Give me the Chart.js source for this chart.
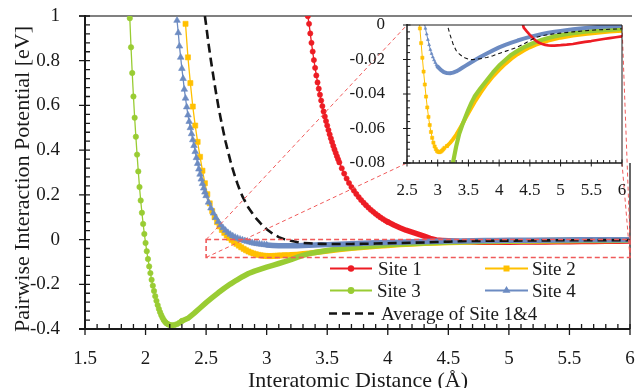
<!DOCTYPE html>
<html>
<head>
<meta charset="utf-8">
<script src="https://cdn.jsdelivr.net/npm/chart.js@4.4.0/dist/chart.umd.min.js"></script>
<style>
  html, body { margin: 0; padding: 0; background: #fff; }
  #wrap { position: relative; width: 636px; height: 388px; }
  #main { position: absolute; left: 0; top: 0; }
  #inset { position: absolute; left: 330px; top: 10px; }
</style>
</head>
<body>
<div id="wrap">
  <canvas id="main" width="636" height="388"></canvas>
  <canvas id="inset" width="300" height="190"></canvas>
</div>
<script>
// ---- data (x in Angstrom, y in eV) ----
var seriesNames = ['Site 1', 'Site 2', 'Site 3', 'Site 4', 'Average of Site 1&4'];

var site1X = [3.34,3.35,3.36,3.37,3.38,3.39,3.40,3.41,3.42,3.43,3.44,3.45,3.46,3.47,3.48,3.49,3.50,3.51,3.52,3.53,3.54,3.55,3.56,3.57,3.58,3.59,3.60,
  3.62,3.64,3.66,3.68,3.70,3.72,3.74,3.76,3.78,3.80,3.82,3.84,3.86,3.88,3.90,3.92,3.94,3.96,3.98,4.00,
  4.05,4.10,4.15,4.20,4.25,4.30,4.35,4.40,4.45,4.50,4.55,4.60,4.65,4.70,4.75,4.80,4.85,4.90,
  5.0,5.1,5.2,5.3,5.4,5.5,5.6,5.7,5.8,5.9,6.0];
var site1Y = [0.999,0.965,0.922,0.88,0.841,0.803,0.768,0.734,0.703,0.675,0.648,0.622,0.597,0.573,0.551,0.530,0.510,0.490,0.471,0.453,0.436,0.419,0.403,0.388,0.373,0.359,0.345,
  0.319,0.295,0.273,0.253,0.235,0.219,0.204,0.19,0.177,0.165,0.154,0.143,0.133,0.124,0.115,0.107,0.099,0.092,0.085,0.079,
  0.065,0.053,0.042,0.033,0.024,0.015,0.0055,-0.0015,-0.0037,-0.0057,-0.0075,-0.0092,-0.0103,-0.011,-0.0115,-0.0118,-0.0119,-0.0119,
  -0.0117,-0.0114,-0.011,-0.0104,-0.0098,-0.0093,-0.0087,-0.0081,-0.0076,-0.0071,-0.0066];

var site2X = [2.33,2.35,2.37,2.39,2.41,2.43,2.45,2.47,2.49,2.51,2.53,2.55,2.57,2.59,2.61,2.63,2.65,2.67,2.69,2.71,
  2.73,2.75,2.77,2.79,2.81,2.83,2.85,2.87,2.89,2.91,2.93,2.95,2.97,2.99,3.01,3.03,3.05,3.07,3.09,3.11,
  3.15,3.20,3.25,3.30,3.35,3.40,3.45,3.50,
  3.6,3.7,3.8,3.9,4.0,4.1,4.2,4.3,4.4,4.5,4.6,4.7,4.8,4.9,5.0,
  5.2,5.4,5.6,5.8,6.0];
var site2Y = [0.965,0.815,0.70,0.595,0.51,0.437,0.37,0.308,0.252,0.203,0.162,0.128,0.10,0.078,0.059,0.043,0.03,0.018,0.0075,-0.002,
  -0.0105,-0.019,-0.027,-0.0345,-0.0415,-0.0478,-0.0533,-0.058,-0.062,-0.0654,-0.0682,-0.0704,-0.072,-0.0731,-0.0736,-0.0737,-0.0734,-0.0728,-0.0721,-0.0712,
  -0.0702,-0.0684,-0.0662,-0.0636,-0.0606,-0.0575,-0.0543,-0.0510,
  -0.0448,-0.0392,-0.0342,-0.0298,-0.0260,-0.0226,-0.0196,-0.0170,-0.0148,-0.0130,-0.0115,-0.0102,-0.0091,-0.0082,-0.0074,
  -0.0062,-0.0053,-0.0045,-0.0039,-0.0034];

var site3X = [1.87,1.88,1.89,1.90,1.91,1.92,1.93,1.94,1.95,1.96,1.97,1.98,1.99,2.00,2.01,2.02,2.03,2.04,2.05,2.06,
  2.07,2.08,2.09,2.10,2.11,2.12,2.13,2.14,2.15,2.16,2.17,2.18,2.19,2.20,2.22,2.24,2.26,2.28,2.30,
  2.35,2.40,2.45,2.50,2.55,2.60,2.65,2.70,2.75,2.80,2.85,2.90,2.95,3.00,3.05,3.10,3.15,3.20,3.25,3.30,3.35,3.40,3.45,3.50,3.55,3.60,
  3.7,3.8,3.9,4.0,4.1,4.2,4.3,4.4,4.5,4.6,4.7,4.8,4.9,5.0,
  5.2,5.4,5.6,5.8,6.0];
var site3Y = [0.99,0.86,0.745,0.64,0.545,0.46,0.38,0.305,0.235,0.175,0.12,0.07,0.025,-0.015,-0.052,-0.087,-0.12,-0.15,-0.18,-0.206,
  -0.23,-0.253,-0.274,-0.293,-0.31,-0.325,-0.338,-0.35,-0.36,-0.367,-0.373,-0.377,-0.38,-0.382,-0.383,-0.382,-0.378,-0.372,-0.364,
  -0.352,-0.33,-0.306,-0.282,-0.26,-0.238,-0.218,-0.199,-0.182,-0.166,-0.152,-0.141,-0.132,-0.123,-0.115,-0.107,-0.099,-0.090,-0.0795,-0.0705,-0.063,-0.058,-0.0535,-0.049,-0.045,-0.0415,
  -0.0365,-0.032,-0.0275,-0.0235,-0.0203,-0.0172,-0.0150,-0.0130,-0.0113,-0.0098,-0.0085,-0.0075,-0.0066,-0.0059,
  -0.0048,-0.0039,-0.0033,-0.0028,-0.0023];

var site4X = [2.26,2.27,2.28,2.29,2.30,2.31,2.32,2.33,2.34,2.35,2.36,2.37,2.38,2.39,2.40,2.41,2.42,2.43,2.44,2.45,2.46,2.47,2.48,2.49,2.50,
  2.52,2.54,2.56,2.58,2.60,2.62,2.64,2.66,2.68,2.70,2.72,2.74,2.76,2.78,2.80,2.82,2.84,2.86,2.88,2.90,2.92,2.94,2.96,2.98,3.00,
  3.05,3.10,3.15,3.20,3.25,3.30,3.35,3.40,3.45,3.50,
  3.6,3.7,3.8,3.9,4.0,4.1,4.2,4.3,4.4,4.5,4.6,4.7,4.8,4.9,5.0,
  5.2,5.4,5.6,5.8,6.0];
var site4Y = [0.98,0.925,0.865,0.815,0.765,0.72,0.672,0.632,0.593,0.557,0.528,0.50,0.473,0.446,0.42,0.393,0.366,0.34,0.315,0.292,0.27,0.25,0.23,0.212,0.196,
  0.167,0.141,0.118,0.098,0.080,0.065,0.052,0.041,0.031,0.023,0.016,0.010,0.0055,0.0015,-0.002,-0.0053,-0.0085,-0.0115,-0.0143,-0.0166,-0.0186,-0.0203,-0.0218,-0.0231,-0.0242,
  -0.026,-0.0273,-0.0279,-0.028,-0.0276,-0.0269,-0.0259,-0.0248,-0.0237,-0.0226,
  -0.0204,-0.0184,-0.0165,-0.0147,-0.013,-0.0115,-0.0102,-0.009,-0.0079,-0.0069,-0.006,-0.0052,-0.0045,-0.0039,-0.0034,
  -0.0025,-0.0018,-0.0012,-0.0008,-0.0004];

var avgX = [2.49,2.50,2.52,2.54,2.56,2.58,2.60,2.62,2.64,2.66,2.68,2.70,2.72,2.74,2.76,2.78,2.80,
  2.85,2.90,2.95,3.00,3.05,3.10,3.15,3.20,3.25,3.30,3.35,3.40,3.45,3.50,3.55,3.60,
  3.7,3.8,3.9,4.0,4.1,4.2,4.3,4.4,4.5,4.6,4.7,4.8,4.9,5.0,
  5.2,5.4,5.6,5.8,6.0];
var avgY = [1.0,0.96,0.875,0.80,0.73,0.662,0.60,0.543,0.49,0.44,0.395,0.353,0.315,0.28,0.248,0.219,0.193,
  0.142,0.103,0.072,0.046,0.026,0.011,0.001,-0.0056,-0.011,-0.0148,-0.0167,-0.0182,-0.0192,-0.0198,-0.0201,-0.0200,
  -0.0195,-0.0188,-0.0178,-0.0165,-0.0153,-0.0141,-0.0128,-0.0110,-0.0090,-0.0072,-0.0062,-0.0056,-0.0051,-0.0047,
  -0.0040,-0.0033,-0.0028,-0.0025,-0.0022];

var mainXTicks = [1.5, 2, 2.5, 3, 3.5, 4, 4.5, 5, 5.5, 6];
var mainYTicks = [-0.4, -0.2, 0, 0.2, 0.4, 0.6, 0.8, 1];
var insetXTicks = [2.5, 3, 3.5, 4, 4.5, 5, 5.5, 6];
var insetYTicks = [-0.08, -0.06, -0.04, -0.02, 0];

// ---- styling ----
var FONT = "'Liberation Serif', 'Times New Roman', serif";
var INK = '#1a1a1a';
var RED = '#ed1c24', GOLD = '#ffc000', GREEN = '#99cc33', BLUE = '#6c8bc2', BLACK = '#141414';
var ZOOM = '#f05a5a';

Chart.defaults.font.family = FONT;
Chart.defaults.color = INK;

function pts(xs, ys) {
  return xs.map(function (x, i) { return { x: x, y: ys[i] }; });
}
function fmt(v) { return String(+Number(v).toFixed(3)); }

// fix an axis box size and drop the label overhang padding chart.js adds
function fixBox(w, h) {
  return function (s) {
    if (w !== null) s.width = w;
    if (h !== null) s.height = h;
    s.paddingTop = s.paddingBottom = s.paddingLeft = s.paddingRight = 0;
  };
}

// markers only where the samples are dense; sparse stretches become a smooth band
function radiusFn(r) {
  return function (c) {
    var d = c.dataset.data, i = c.dataIndex;
    if (!d[i]) return r;
    var gl = i > 0 ? d[i].x - d[i - 1].x : 1;
    var gr = i < d.length - 1 ? d[i + 1].x - d[i].x : 1;
    return Math.min(gl, gr) > 0.045 ? 0 : r;
  };
}

function lineSet(name, xs, ys, color, style, r, thin, wide, order) {
  return {
    label: name, data: pts(xs, ys), order: order,
    borderColor: color, backgroundColor: color,
    pointBackgroundColor: color, pointBorderColor: color,
    borderWidth: thin, pointStyle: style, pointRadius: radiusFn(r), pointBorderWidth: 0.6,
    tension: 0, borderJoinStyle: 'round', borderCapStyle: 'round',
    segment: { borderWidth: function (c) { return Math.abs(c.p1.x - c.p0.x) > 2.8 ? wide : thin; } }
  };
}

function drawAxes(chart, o) {
  var ctx = chart.ctx, a = chart.chartArea, x = chart.scales.x, y = chart.scales.y;
  ctx.save();
  ctx.strokeStyle = INK;
  ctx.lineWidth = o.axisW;
  ctx.beginPath();
  ctx.moveTo(a.left, a.top - 1); ctx.lineTo(a.left, a.bottom);
  ctx.moveTo(a.left - o.outY, a.bottom); ctx.lineTo(a.right, a.bottom);
  ctx.stroke();
  ctx.lineWidth = o.tickW;
  ctx.beginPath();
  var nx = Math.round((o.x1 - o.x0) / o.xm);
  for (var i = 0; i <= nx; i++) {
    var px = x.getPixelForValue(o.x0 + i * o.xm);
    var mj = i % 5 === 0;
    ctx.moveTo(px, a.bottom - (mj ? o.inMajor : o.inMinor));
    ctx.lineTo(px, a.bottom + (mj ? o.outX : 0));
  }
  var ny = Math.round((o.y1 - o.y0) / o.ym);
  for (var j = 0; j <= ny; j++) {
    var py = y.getPixelForValue(o.y0 + j * o.ym);
    var mj2 = j % 5 === 0;
    ctx.moveTo(a.left + (mj2 ? o.inMajor : o.inMinor), py);
    ctx.lineTo(a.left - (mj2 ? o.outY : 0), py);
  }
  ctx.stroke();
  ctx.restore();
}

function marker(ctx, style, x, y, r) {
  ctx.beginPath();
  if (style === 'circle') {
    ctx.arc(x, y, r, 0, Math.PI * 2);
  } else if (style === 'rect') {
    ctx.rect(x - r, y - r, 2 * r, 2 * r);
  } else {
    ctx.moveTo(x, y - r);
    ctx.lineTo(x + r * 0.866, y + r * 0.5);
    ctx.lineTo(x - r * 0.866, y + r * 0.5);
    ctx.closePath();
  }
  ctx.fill();
}

function drawLegend(ctx) {
  var items = [
    { name: seriesNames[0], color: RED, style: 'circle', r: 3.2, x0: 330, x1: 372, y: 268.5, tx: 378, base: 275 },
    { name: seriesNames[1], color: GOLD, style: 'rect', r: 3, x0: 485, x1: 528, y: 268.5, tx: 532, base: 275 },
    { name: seriesNames[2], color: GREEN, style: 'circle', r: 3.4, x0: 330, x1: 372, y: 290.5, tx: 377, base: 297 },
    { name: seriesNames[3], color: BLUE, style: 'triangle', r: 4.6, x0: 485, x1: 528, y: 290.5, tx: 532, base: 297 }
  ];
  ctx.save();
  ctx.font = '19px ' + FONT;
  ctx.textBaseline = 'alphabetic';
  items.forEach(function (it) {
    ctx.strokeStyle = it.color; ctx.fillStyle = it.color; ctx.lineWidth = 2;
    ctx.beginPath(); ctx.moveTo(it.x0, it.y); ctx.lineTo(it.x1, it.y); ctx.stroke();
    marker(ctx, it.style, (it.x0 + it.x1) / 2, it.y, it.r);
    ctx.fillStyle = INK;
    ctx.fillText(it.name, it.tx, it.base);
  });
  ctx.strokeStyle = BLACK; ctx.lineWidth = 2.6; ctx.setLineDash([8, 5]);
  ctx.beginPath(); ctx.moveTo(329, 313.5); ctx.lineTo(374, 313.5); ctx.stroke();
  ctx.setLineDash([]);
  ctx.fillStyle = INK;
  ctx.fillText(seriesNames[4], 381, 319.5);
  ctx.restore();
}

// ---- inset chart (built first so the main chart knows where it sits) ----
var INSET_LEFT = 330, INSET_TOP = 10;

var insetDeco = {
  id: 'insetDeco',
  beforeDatasetsDraw: function (chart) {
    var a = chart.chartArea, ctx = chart.ctx;
    ctx.save(); ctx.fillStyle = '#fff';
    ctx.fillRect(a.left, a.top, a.right - a.left, a.bottom - a.top);
    ctx.restore();
  },
  afterDatasetsDraw: function (chart) {
    var a = chart.chartArea, ctx = chart.ctx;
    ctx.save();
    ctx.strokeStyle = INK; ctx.lineWidth = 1;
    ctx.beginPath();
    ctx.moveTo(a.left, a.top); ctx.lineTo(a.right, a.top); ctx.lineTo(a.right, a.bottom);
    ctx.stroke();
    ctx.restore();
    drawAxes(chart, { axisW: 1.5, tickW: 1, x0: 2.5, x1: 6, xm: 0.1, y0: -0.08, y1: 0, ym: 0.004,
      inMajor: 3.5, inMinor: 3, outX: 3.5, outY: 4 });
  }
};

var inset = new Chart(document.getElementById('inset'), {
  type: 'line',
  data: {
    datasets: [
      { label: seriesNames[4], data: pts(avgX, avgY), order: 0, borderColor: BLACK, borderWidth: 1.1,
        borderDash: [4, 3], pointRadius: 0, clip: 0 },
      Object.assign(lineSet(seriesNames[0], site1X, site1Y, RED, 'circle', 1.1, 1, 2.7, 1), { clip: 0 }),
      Object.assign(lineSet(seriesNames[3], site4X, site4Y, BLUE, 'triangle', 1.7, 1, 4, 2), { clip: 0 }),
      Object.assign(lineSet(seriesNames[2], site3X, site3Y, GREEN, 'circle', 1.7, 1, 4.2, 3), { clip: 0 }),
      Object.assign(lineSet(seriesNames[1], site2X, site2Y, GOLD, 'rect', 2.2, 1, 3.8, 4), { clip: 0 })
    ]
  },
  options: {
    responsive: false, animation: false, events: [],
    layout: { padding: { left: 0, right: 8, top: 15, bottom: 0 } },
    plugins: { legend: { display: false }, tooltip: { enabled: false } },
    scales: {
      x: {
        type: 'linear', min: 2.5, max: 6,
        afterBuildTicks: function (s) { s.ticks = insetXTicks.map(function (v) { return { value: v }; }); },
        afterFit: fixBox(null, 37),
        grid: { display: false }, border: { display: false },
        ticks: { padding: 9, font: { size: 17 }, color: INK, maxRotation: 0, autoSkip: false, callback: fmt }
      },
      y: {
        type: 'linear', min: -0.08, max: 0,
        afterBuildTicks: function (s) { s.ticks = insetYTicks.map(function (v) { return { value: v }; }); },
        afterFit: fixBox(77, null),
        grid: { display: false }, border: { display: false },
        ticks: { padding: 14, font: { size: 17 }, color: INK, autoSkip: false, callback: fmt }
      }
    }
  },
  plugins: [insetDeco]
});

// ---- main chart ----
var mainDeco = {
  id: 'mainDeco',
  beforeDatasetsDraw: function (chart) {
    var a = chart.chartArea, ctx = chart.ctx;
    var ib = INSET_TOP + inset.chartArea.bottom;
    ctx.save();
    ctx.strokeStyle = '#808080'; ctx.lineWidth = 2;
    ctx.beginPath(); ctx.moveTo(a.left - 6, a.top); ctx.lineTo(a.right + 2, a.top); ctx.stroke();
    ctx.strokeStyle = '#333'; ctx.lineWidth = 1.5;
    ctx.beginPath(); ctx.moveTo(a.right, ib); ctx.lineTo(a.right, a.bottom); ctx.stroke();
    ctx.restore();
  },
  afterDatasetsDraw: function (chart) {
    var ctx = chart.ctx, x = chart.scales.x, y = chart.scales.y;
    var ia = inset.chartArea;
    var L = INSET_LEFT + ia.left, R = INSET_LEFT + ia.right, T = INSET_TOP + ia.top, B = INSET_TOP + ia.bottom;
    var bx0 = x.getPixelForValue(2.5), bx1 = x.getPixelForValue(6);
    var by0 = y.getPixelForValue(0), by1 = y.getPixelForValue(-0.08);
    ctx.save();
    ctx.strokeStyle = ZOOM; ctx.lineWidth = 1.6; ctx.setLineDash([5, 3]);
    ctx.strokeRect(bx0, by0, bx1 - bx0, by1 - by0);
    ctx.lineWidth = 1; ctx.setLineDash([4, 3]);
    ctx.beginPath();
    ctx.moveTo(bx0, by0); ctx.lineTo(L, T);
    ctx.moveTo(bx0, by1); ctx.lineTo(L, B);
    ctx.moveTo(bx1, by0); ctx.lineTo(R, T);
    ctx.moveTo(bx1, by1); ctx.lineTo(R, B);
    ctx.stroke();
    ctx.restore();

    drawAxes(chart, { axisW: 2, tickW: 1.3, x0: 1.5, x1: 6, xm: 0.1, y0: -0.4, y1: 1, ym: 0.04,
      inMajor: 5, inMinor: 5, outX: 6, outY: 6 });
    drawLegend(ctx);

    ctx.save();
    ctx.fillStyle = INK;
    ctx.font = '22px ' + FONT;
    ctx.textAlign = 'center'; ctx.textBaseline = 'alphabetic';
    ctx.fillText('Interatomic Distance (\u00c5)', 358, 386.5);
    ctx.translate(28.5, 179);
    ctx.rotate(-Math.PI / 2);
    ctx.fillText('Pairwise Interaction Potential [eV]', 0, 0);
    ctx.restore();
  }
};

new Chart(document.getElementById('main'), {
  type: 'line',
  data: {
    datasets: [
      { label: seriesNames[4], data: pts(avgX, avgY), order: 0, borderColor: BLACK, borderWidth: 2.6,
        borderDash: [9, 5], pointRadius: 0 },
      lineSet(seriesNames[3], site4X, site4Y, BLUE, 'triangle', 3.8, 1.3, 5.5, 1),
      lineSet(seriesNames[2], site3X, site3Y, GREEN, 'circle', 2.7, 1.3, 5.5, 2),
      lineSet(seriesNames[1], site2X, site2Y, GOLD, 'rect', 3.6, 1.3, 5.5, 3),
      lineSet(seriesNames[0], site1X, site1Y, RED, 'circle', 2.6, 1.3, 5.5, 4)
    ]
  },
  options: {
    responsive: false, animation: false, events: [],
    layout: { padding: { left: 0, right: 6, top: 16, bottom: 0 } },
    plugins: { legend: { display: false }, tooltip: { enabled: false } },
    scales: {
      x: {
        type: 'linear', min: 1.5, max: 6,
        afterBuildTicks: function (s) { s.ticks = mainXTicks.map(function (v) { return { value: v }; }); },
        afterFit: fixBox(null, 59),
        grid: { display: false }, border: { display: false },
        ticks: { padding: 11, font: { size: 19 }, color: INK, maxRotation: 0, autoSkip: false, callback: fmt }
      },
      y: {
        type: 'linear', min: -0.4, max: 1,
        afterBuildTicks: function (s) { s.ticks = mainYTicks.map(function (v) { return { value: v }; }); },
        afterFit: fixBox(85, null),
        grid: { display: false }, border: { display: false },
        ticks: { padding: 17, font: { size: 19 }, color: INK, autoSkip: false, callback: fmt }
      }
    }
  },
  plugins: [mainDeco]
});
</script>
</body>
</html>
